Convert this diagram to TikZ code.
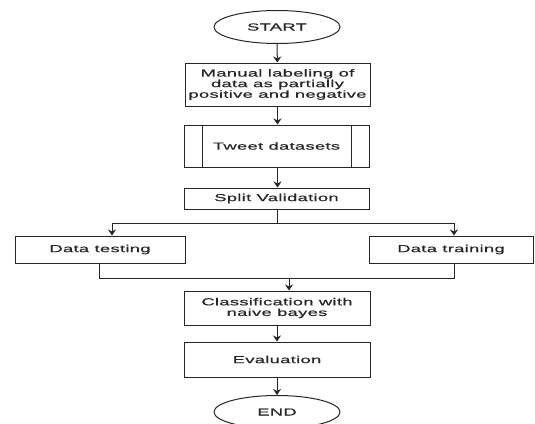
\documentclass[tikz,border=0pt]{standalone}
\usepackage{fontspec}
\setmainfont[FakeStretch=1.8, FakeBold=0.6, LetterSpace=3]{Liberation Sans}
\usetikzlibrary{shapes.geometric,arrows.meta}
\begin{document}
\begin{tikzpicture}[x=1pt,y=-1pt,
  every node/.style={font=\fontsize{10.2}{10.6}\selectfont, text=black!85},
  box/.style={draw=black!85, line width=1pt, rectangle, inner sep=0pt, align=center},
  term/.style={draw=black!85, line width=1pt, ellipse, inner sep=0pt, minimum width=126pt, minimum height=33pt},
  conn/.style={draw=black!85, line width=1pt},
  arr/.style={conn, -{Stealth[length=6pt,width=8pt]}}]
\useasboundingbox (0,0) rectangle (535,423);
\node[term] (start) at (277,27) {START};
\node[box, minimum width=185pt, minimum height=43pt] (man) at (277.5,84.5) {Manual labeling of\\data as partially\\positive and negative};
\node[box, minimum width=185pt, minimum height=42pt] (tw) at (276.5,146) {Tweet datasets};
\draw[conn] ([xshift=19pt]tw.north west) -- ([xshift=19pt]tw.south west);
\draw[conn] ([xshift=-18pt]tw.north east) -- ([xshift=-18pt]tw.south east);
\node[box, minimum width=185pt, minimum height=21pt] (split) at (276.5,198.5) {Split Validation};
\node[box, minimum width=170pt, minimum height=27pt] (test) at (100,249.5) {Data testing};
\node[box, minimum width=164pt, minimum height=27pt] (train) at (451,249.5) {Data training};
\node[box, minimum width=186pt, minimum height=34pt] (cls) at (277,308) {Classification with\\naive bayes};
\node[box, minimum width=186pt, minimum height=35pt] (ev) at (277,359.5) {Evaluation};
\node[term] (end) at (277,412) {END};
\draw[arr] (start) -- (man);
\draw[arr] (man) -- (tw.north -| man);
\draw[arr] (tw.south -| man) -- (split.north -| man);
\draw[conn] (split.south -| man) -- ++(0,14) coordinate (br);
\draw[arr] (br) -| ([xshift=12pt]test.north);
\draw[arr] (br) -| ([xshift=3pt]train.north);
\draw[conn] ([xshift=-1pt]test.south) -- ++(0,15) coordinate (mg) -| ([xshift=3pt]train.south);
\coordinate (mm) at (289,278);
\draw[arr] (mm) -- (mm |- cls.north);
\draw[arr] (cls) -- (ev);
\draw[arr] (ev) -- (end);
\end{tikzpicture}
\end{document}
